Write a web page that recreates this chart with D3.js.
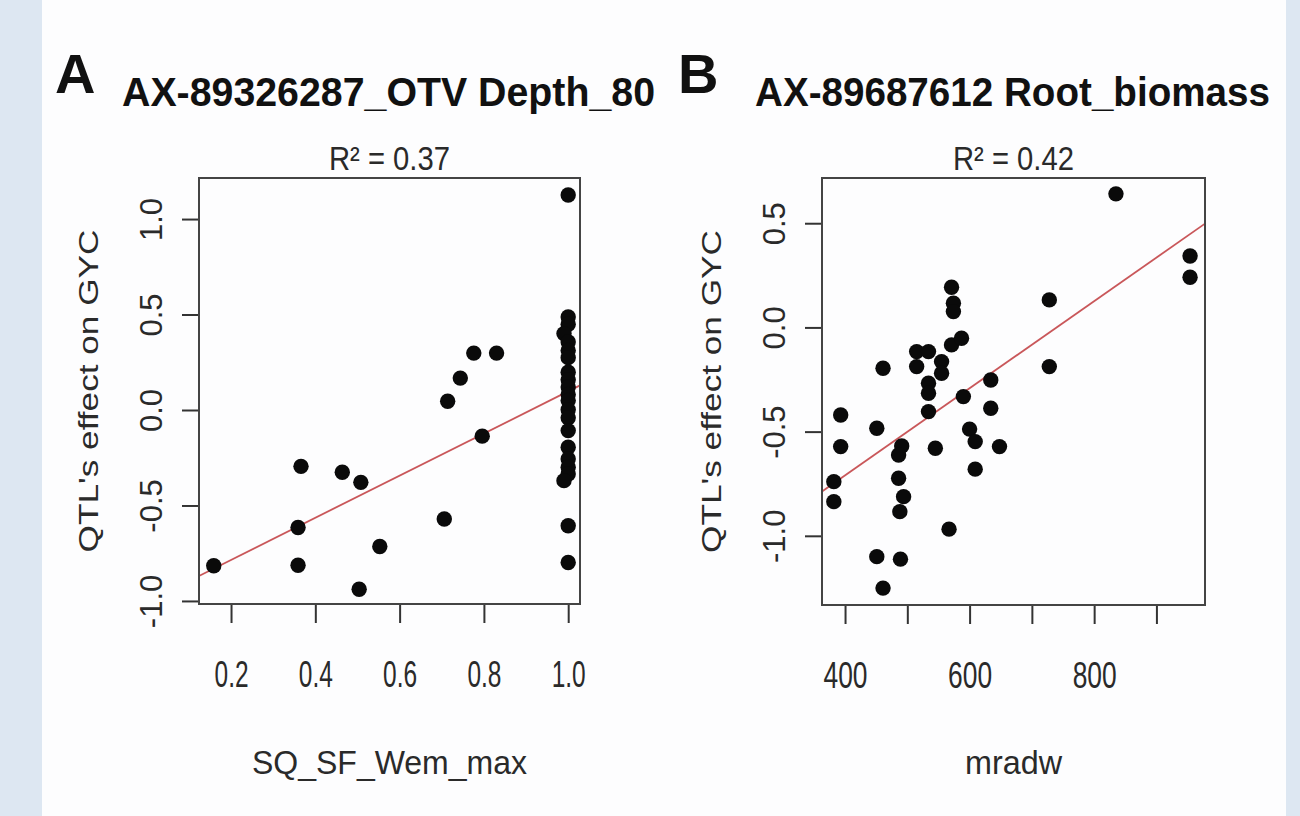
<!DOCTYPE html>
<html>
<head>
<meta charset="utf-8">
<script src="https://cdn.jsdelivr.net/npm/d3@7"></script>
<style>
  body { margin: 0; background: #dde7f2; }
  svg { display: block; }
</style>
</head>
<body>
<div id="chart"></div>
<script>
// panel A: SQ_SF_Wem_max vs QTL effect
var wemX = [0.159, 0.359, 0.359, 0.366, 0.464, 0.508, 0.504, 0.553, 0.706, 0.714, 0.744, 0.776, 0.830, 0.796,
            1.0, 1.0, 1.0, 0.99, 1.0, 1.0, 1.0, 1.0, 1.0, 1.0, 1.0, 1.0, 1.0, 1.0, 1.0, 1.0, 1.0, 1.0, 1.0, 0.99, 1.0, 1.0];
var wemY = [-0.816, -0.615, -0.813, -0.295, -0.326, -0.379, -0.939, -0.715, -0.571, 0.046, 0.167, 0.298, 0.298, -0.137,
            1.126, 0.487, 0.449, 0.400, 0.356, 0.312, 0.274, 0.198, 0.158, 0.120, 0.081, 0.050, 0.001, -0.041, -0.108,
            -0.195, -0.256, -0.300, -0.335, -0.370, -0.606, -0.799];

// panel B: mradw vs QTL effect
var mradwX = [835, 954, 954, 728, 728, 571, 574, 574, 571, 587, 515, 534, 515, 555, 555, 534, 534, 534, 461, 634,
              590, 634, 393, 393, 382, 382, 451, 491, 486, 486, 494, 488, 545, 600, 609, 648, 609, 567, 451, 489, 461];
var mradwY = [0.641, 0.343, 0.241, 0.132, -0.188, 0.193, 0.116, 0.076, -0.084, -0.052, -0.116, -0.116, -0.188, -0.164,
              -0.220, -0.268, -0.316, -0.404, -0.196, -0.252, -0.332, -0.388, -0.420, -0.572, -0.740, -0.836, -0.484,
              -0.569, -0.612, -0.724, -0.812, -0.884, -0.580, -0.488, -0.548, -0.572, -0.680, -0.968, -1.100, -1.112, -1.251];

// fitted lines: [intercept, slope]
var fitA = [-1.006, 1.104];
var fitB = [-1.546, 0.00209];

var xTicksA = [0.2, 0.4, 0.6, 0.8, 1.0];
var yTicksA = [-1.0, -0.5, 0.0, 0.5, 1.0];
var xTicksB = [400, 500, 600, 700, 800, 900];
var xLabelsB = [400, 600, 800];
var yTicksB = [-1.0, -0.5, 0.0, 0.5];

var width = 1300, height = 816;
var font = "'Liberation Sans', Arial, sans-serif";

var svg = d3.select("#chart")
            .append("svg")
            .attr("width", width)
            .attr("height", height);

svg.append("rect")
   .attr("x", 42).attr("y", 0)
   .attr("width", 1244).attr("height", height)
   .attr("fill", "#fdfdfe");

function panel(opt) {
    var x = d3.scaleLinear().domain(opt.xDomain).range([opt.box[0], opt.box[1]]);
    var y = d3.scaleLinear().domain(opt.yDomain).range([opt.box[3], opt.box[2]]);
    var g = svg.append("g");

    // y axis
    var ya = g.append("g")
              .attr("transform", "translate(" + opt.box[0] + ",0)")
              .call(d3.axisLeft(y).tickValues(opt.yTicks).tickSize(17).tickFormat(d3.format(".1f")));
    ya.select(".domain").remove();
    ya.selectAll("line").attr("stroke", "#333").attr("stroke-width", 2);
    ya.selectAll("text")
      .attr("x", null).attr("dy", null)
      .attr("text-anchor", "middle")
      .attr("transform", "translate(-37,0) rotate(-90)")
      .attr("font-family", font)
      .attr("font-size", 31)
      .attr("fill", "#2a2a2a")
      .text(function(d) { return d3.format(".1f")(d).replace("−", "-"); });

    // x axis
    var xa = g.append("g")
              .attr("transform", "translate(0," + opt.box[3] + ")")
              .call(d3.axisBottom(x).tickValues(opt.xTicks).tickSize(19)
                      .tickFormat(function(d) { return opt.xLabels.indexOf(d) >= 0 ? opt.xFormat(d) : ""; }));
    xa.select(".domain").remove();
    xa.selectAll("line").attr("stroke", "#333").attr("stroke-width", 2);
    xa.selectAll("text")
      .attr("dy", null)
      .attr("y", 83)
      .attr("font-family", font)
      .attr("font-size", 36)
      .attr("fill", "#2a2a2a")
      .attr("textLength", function() { return this.textContent.length ? opt.tickLen : null; })
      .attr("lengthAdjust", "spacingAndGlyphs");

    // regression line
    var x0 = opt.xDomain[0], x1 = opt.xDomain[1];
    g.append("line")
     .attr("x1", x(x0)).attr("y1", y(opt.fit[0] + opt.fit[1] * x0))
     .attr("x2", x(x1)).attr("y2", y(opt.fit[0] + opt.fit[1] * x1))
     .attr("stroke", "#c9575a")
     .attr("stroke-width", 1.8);

    // points
    g.append("g")
     .selectAll("circle")
     .data(opt.xs.map(function(v, i) { return [v, opt.ys[i]]; }))
     .enter()
     .append("circle")
     .attr("cx", function(d) { return x(d[0]); })
     .attr("cy", function(d) { return y(d[1]); })
     .attr("r", 7.7)
     .attr("fill", "#0a0a0a");

    // box
    g.append("rect")
     .attr("x", opt.box[0]).attr("y", opt.box[2])
     .attr("width", opt.box[1] - opt.box[0]).attr("height", opt.box[3] - opt.box[2])
     .attr("fill", "none")
     .attr("stroke", "#444")
     .attr("stroke-width", 2);

    var cx = (opt.box[0] + opt.box[1]) / 2;
    var cy = (opt.box[2] + opt.box[3]) / 2;

    // R squared
    g.append("text")
     .attr("x", cx).attr("y", 170)
     .attr("text-anchor", "middle")
     .attr("font-family", font)
     .attr("font-size", 34)
     .attr("fill", "#2a2a2a")
     .attr("textLength", 121)
     .attr("lengthAdjust", "spacingAndGlyphs")
     .text(opt.r2);

    // axis titles
    g.append("text")
     .attr("x", cx).attr("y", 774)
     .attr("text-anchor", "middle")
     .attr("font-family", font)
     .attr("font-size", 34)
     .attr("fill", "#2a2a2a")
     .attr("textLength", opt.xTitleLen)
     .attr("lengthAdjust", "spacingAndGlyphs")
     .text(opt.xTitle);

    g.append("text")
     .attr("transform", "translate(" + (opt.box[0] - 101) + "," + cy + ") rotate(-90)")
     .attr("text-anchor", "middle")
     .attr("font-family", font)
     .attr("font-size", 27)
     .attr("fill", "#2a2a2a")
     .attr("textLength", 323)
     .attr("lengthAdjust", "spacingAndGlyphs")
     .text("QTL's effect on GYC");

    // panel letter and title
    g.append("text")
     .attr("x", opt.letterX).attr("y", 93)
     .attr("font-family", font)
     .attr("font-weight", "bold")
     .attr("font-size", 56)
     .attr("fill", "#111")
     .text(opt.letter);

    g.append("text")
     .attr("x", opt.titleX).attr("y", 106)
     .attr("font-family", font)
     .attr("font-weight", "bold")
     .attr("font-size", 40)
     .attr("fill", "#111")
     .attr("textLength", opt.titleLen)
     .attr("lengthAdjust", "spacingAndGlyphs")
     .text(opt.title);
}

panel({
    box: [199, 580, 178, 604],
    xDomain: [0.124, 1.028], yDomain: [-1.016, 1.215],
    xTicks: xTicksA, xLabels: xTicksA, yTicks: yTicksA,
    xFormat: d3.format(".1f"), tickLen: 34,
    xs: wemX, ys: wemY, fit: fitA,
    r2: "R² = 0.37",
    xTitle: "SQ_SF_Wem_max", xTitleLen: 275,
    letter: "A", letterX: 55,
    title: "AX-89326287_OTV Depth_80", titleX: 122, titleLen: 533
});

panel({
    box: [822, 1205, 178, 605],
    xDomain: [363, 978], yDomain: [-1.332, 0.717],
    xTicks: xTicksB, xLabels: xLabelsB, yTicks: yTicksB,
    xFormat: d3.format("d"), tickLen: 44,
    xs: mradwX, ys: mradwY, fit: fitB,
    r2: "R² = 0.42",
    xTitle: "mradw", xTitleLen: 97,
    letter: "B", letterX: 678,
    title: "AX-89687612 Root_biomass", titleX: 755, titleLen: 515
});
</script>
</body>
</html>
